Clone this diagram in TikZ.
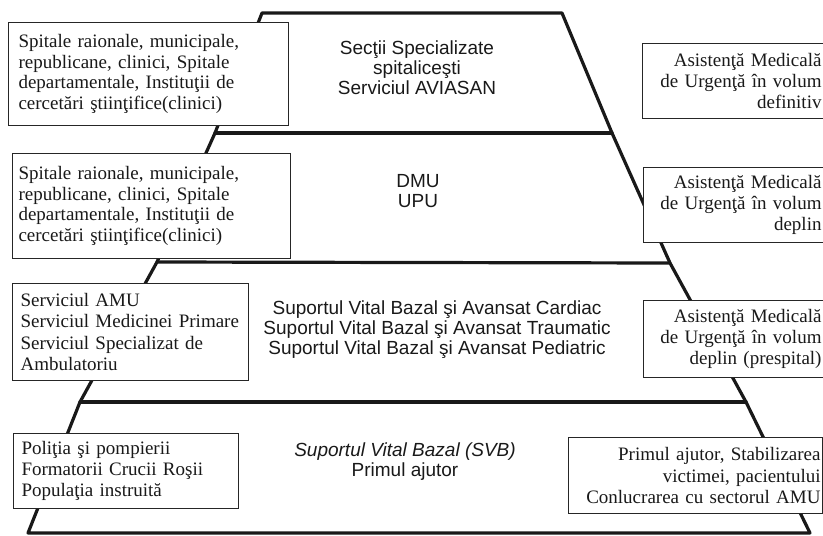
\documentclass[tikz,border=0pt]{standalone}
\usepackage{fontspec}
\setmainfont{Liberation Serif}
\newfontfamily\arialf{Liberation Sans}
\begin{document}
\begin{tikzpicture}[x=0.75pt,y=-0.75pt,
  pyr/.style={line width=2.4pt, line join=round, line cap=round, black!90},
  tbox/.style={draw=black!85, line width=0.8pt, fill=white, inner ysep=0pt,
    font=\fontsize{14.25}{15.5}\selectfont, text=black!90},
  lbox/.style={tbox, anchor=north west, align=left},
  rbox/.style={tbox, anchor=north west, align=right, inner xsep=6.75pt},
  ctext/.style={font=\arialf\fontsize{14.25}{15}\selectfont, align=center, inner sep=0pt, text=black!90}]
\useasboundingbox (0,0) rectangle (823,535);
\clip (0,0) rectangle (823,535);
% pyramid outline
\coordinate (L0) at (262,13);
\coordinate (L1) at (215,133);
\coordinate (L2) at (157,262);
\coordinate (L3) at (80,402);
\coordinate (L4) at (28,533);
\coordinate (R0) at (562,13);
\coordinate (R1) at (612,133);
\coordinate (R2) at (670,263);
\coordinate (R3) at (746,402);
\coordinate (R4) at (810,533);
\draw[pyr] (L4) -- (L3) -- (L2) -- (L1) -- (L0) -- (R0) -- (R1) -- (R2) -- (R3) -- (R4) -- cycle;
\draw[pyr] (L1) -- (R1);
\draw[pyr] (L2) -- (R2);
\draw[pyr] (L3) -- (R3);
% centre texts
\node[ctext] (c1) at (417,68) {Secţii Specializate\\spitaliceşti\\Serviciul AVIASAN};
\node[ctext] (c2) at (418,191) {DMU\\UPU};
\node[ctext] (c3) at (437,330) {Suportul Vital Bazal şi Avansat Cardiac\\Suportul Vital Bazal şi Avansat Traumatic\\Suportul Vital Bazal şi Avansat Pediatric};
\node[ctext] (c4) at (405,462) {\itshape Suportul Vital Bazal (SVB)\\Primul ajutor};
% left boxes
\node[lbox, inner xsep=7.5pt, minimum width=210pt, minimum height=77.25pt, text width=195pt] (l1) at (8,22)
  {Spitale raionale, municipale,\\republicane, clinici, Spitale\\departamentale, Instituţii de\\cercetări ştiinţifice(clinici)};
\node[lbox, inner xsep=4.5pt, minimum width=208.5pt, minimum height=78.75pt, text width=199.5pt] (l2) at (12,153)
  {Spitale raionale, municipale,\\republicane, clinici, Spitale\\departamentale, Instituţii de\\cercetări ştiinţifice(clinici)};
\node[lbox, inner xsep=6pt, minimum width=177pt, minimum height=72.75pt, text width=165pt,
  font=\fontsize{14.25}{16.1}\selectfont] (l3) at (12,283)
  {Serviciul AMU\\Serviciul Medicinei Primare\\Serviciul Specializat de\\Ambulatoriu};
\node[lbox, inner xsep=6pt, minimum width=168.75pt, minimum height=56.25pt, text width=156.75pt,
  font=\fontsize{14.25}{15.8}\selectfont] (l4) at (13,433)
  {Poliţia şi pompierii\\Formatorii Crucii Roşii\\Populaţia instruită};
% right boxes
\node[rbox, minimum width=141pt, minimum height=56.25pt, text width=127.5pt,
  font=\fontsize{14.25}{15.8}\selectfont] (r1) at (642,43)
  {Asistenţă Medicală\\de Urgenţă în volum\\definitiv};
\node[rbox, minimum width=140.25pt, minimum height=56.25pt, text width=126.75pt] (r2) at (643,167)
  {Asistenţă Medicală\\de Urgenţă în volum\\deplin};
\node[rbox, minimum width=140.25pt, minimum height=57.75pt, text width=126.75pt] (r3) at (643,300)
  {Asistenţă Medicală\\de Urgenţă în volum\\deplin (prespital)};
\node[rbox, inner xsep=1.5pt, minimum width=190.5pt, minimum height=57pt, text width=187.5pt,
  font=\fontsize{14.25}{15.8}\selectfont] (r4) at (568,437)
  {Primul ajutor, Stabilizarea\\victimei, pacientului\\Conlucrarea cu sectorul AMU};
\end{tikzpicture}
\end{document}
